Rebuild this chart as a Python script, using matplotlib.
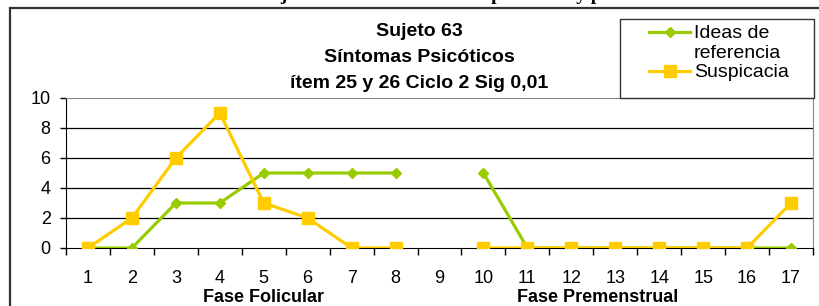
import matplotlib.pyplot as plt
import matplotlib.transforms as mtransforms
import numpy as np
from matplotlib.lines import Line2D
from matplotlib.patches import Rectangle

plt.rcParams['font.family'] = ['Liberation Sans', 'DejaVu Sans']

dias = [str(i) for i in range(1, 18)]
ideas = [0, 0, 3, 3, 5, 5, 5, 5, np.nan, 5, 0, 0, 0, 0, 0, 0, 0]
suspicacia = [0, 2, 6, 9, 3, 2, 0, 0, np.nan, 0, 0, 0, 0, 0, 0, 0, 3]
fases = ["Fase Folicular", "Fase Premenstrual"]
fase_centro = [5, 12.6]

VERDE = "#99CC00"
AMARILLO = "#FFCC00"

W, H = 819, 306


def fx(px):
    return px / W


def fy(py):
    return 1 - py / H


def main():
    fig = plt.figure(figsize=(W / 100, H / 100), dpi=100)

    # caption line cut off at the top of the picture
    fig.text(fx(259), 1.0, "Sujeto 63 Ciclo 2. Síntomas psicóticos y premenstruales",
             family="Liberation Serif", fontweight="bold", fontsize=14,
             ha="left", va="baseline")

    # outer chart frame
    fig.add_artist(Rectangle((fx(10), -0.2), 1.2, fy(8) + 0.2, transform=fig.transFigure,
                             fill=False, edgecolor="#333333", linewidth=1.6))

    ax = fig.add_axes([fx(66), fy(248), fx(813) - fx(66), fy(98) - fy(248)])
    x = np.arange(1, len(dias) + 1)

    ax.plot(x, ideas, color=VERDE, lw=2.3, marker="D", markersize=5.5, zorder=3)
    ax.plot(x, suspicacia, color=AMARILLO, lw=2.3, marker="s", markersize=8, zorder=4)

    ax.set_xlim(0.5, len(dias) + 0.5)
    ax.set_ylim(0, 10)
    ax.set_yticks(range(0, 11, 2))
    for yv in range(2, 10, 2):
        ax.axhline(yv, color="black", lw=0.9, zorder=1)

    ax.set_xticks(np.arange(0.5, len(dias) + 1, 1))
    ax.set_xticklabels([])
    ax.set_xticks(x, minor=True)
    ax.set_xticklabels(dias, minor=True)
    ax.tick_params(axis="x", which="major", length=5, width=1, direction="out")
    ax.tick_params(axis="x", which="minor", length=0, pad=15.5, labelsize=13)
    ax.tick_params(axis="y", length=4.5, width=1, pad=6.5, labelsize=13)

    for side in ["top", "right"]:
        ax.spines[side].set_color("#888888")
    for side in ["left", "bottom"]:
        ax.spines[side].set_color("black")

    trans = mtransforms.blended_transform_factory(ax.transData, fig.transFigure)
    for nombre, cx in zip(fases, fase_centro):
        ax.text(cx, fy(297), nombre, transform=trans, ha="center", va="center",
                fontsize=13, fontweight="bold")

    for ty, t in [(31, "Sujeto 63"), (58, "Síntomas Psicóticos"),
                  (84, "ítem 25 y 26 Ciclo 2 Sig 0,01")]:
        fig.text(fx(419), fy(ty), t, ha="center", va="center",
                 fontsize=14, fontweight="bold")

    # legend box
    fig.add_artist(Rectangle((fx(620), fy(98)), fx(814) - fx(620), fy(19) - fy(98),
                             transform=fig.transFigure, facecolor="white",
                             edgecolor="#333333", linewidth=1.0, zorder=5))
    for hy, color, mk, ms in [(32, VERDE, "D", 5.5), (71, AMARILLO, "s", 8)]:
        fig.add_artist(Line2D([fx(649), fx(690)], [fy(hy), fy(hy)], color=color, lw=2.3,
                              transform=fig.transFigure, zorder=6))
        fig.add_artist(Line2D([fx(669.5)], [fy(hy)], color=color, marker=mk, markersize=ms,
                              transform=fig.transFigure, zorder=6))
    for ty, t in [(33, "Ideas de"), (53, "referencia"), (72, "Suspicacia")]:
        fig.text(fx(694), fy(ty), t, ha="left", va="center", fontsize=14, zorder=7)

    fig.savefig("out.png", dpi=100)


if __name__ == "__main__":
    main()
